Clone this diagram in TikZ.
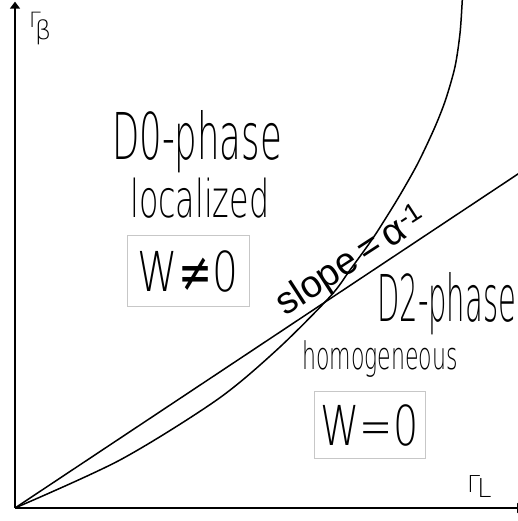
\documentclass[tikz,border=0pt]{standalone}
\usepackage{fontspec}
\setmainfont{Liberation Sans}
\IfFontExistsTF{DejaVu Sans ExtraLight}
  {\newfontfamily\handfont{DejaVu Sans ExtraLight}}
  {\newfontfamily\handfont{DejaVu Sans}}
\newfontfamily\symfont{DejaVu Sans}
\usetikzlibrary{arrows.meta}

\tikzset{
  axis/.style={line width=2pt, -{Triangle[width=10pt,length=7pt]}},
  graph/.style={line width=1.5pt},
  hand/.style={font=\handfont\fontsize{#1}{#1}\selectfont, inner sep=0pt},
  wbox/.style={draw=black!22, line width=1pt, inner sep=0pt},
}

\begin{document}
\begin{tikzpicture}[x=1pt, y=1pt]
  \useasboundingbox (-15,-13) rectangle (503,508);
  \coordinate (O) at (0,0);
  \coordinate (ytip) at (0,506.3);
  \coordinate (xtip) at (509,0);
  \coordinate (lineend) at (512,340);
  % axes
  \draw[axis] (O) -- (ytip);
  \draw[axis] (O) -- (xtip);
  % straight line and the curve
  \draw[graph] (O) -- (lineend);
  \draw[graph] plot[smooth, tension=0.5] coordinates {(0,0) (105,48) (201.7,108) (261.7,158) (315,211.3)
    (335,238) (356.7,268) (371.7,291.3) (386,314.7) (403,345) (419.5,380) (430.5,408) (440,441.3)
    (445,474.7) (447.3,508) (448,520)};
  % axis labels
  \node[hand=21, anchor=north west] (gbeta) at (14,496) {Γ\kern-6pt\raisebox{-12pt}{\fontsize{26}{26}\selectfont β}};
  \node[hand=23.3, anchor=north west] (gL) at (452,33) {Γ\kern-3pt\raisebox{-5pt}{\fontsize{26}{26}\selectfont L}};
  % upper region
  \node[hand=64.5, anchor=base west] (dzero) at (97,348) {\scalebox{0.55}[1]{D0-phase}};
  \node[hand=52, anchor=base west] (loc) at (115,290) {\scalebox{0.61}[1]{localized}};
  \node[wbox, minimum width=122pt, minimum height=71pt, hand=55] (wneq) at (173,236.5) {\scalebox{0.74}[1]{W{\symfont ≠}0}};
  % lower region
  \node[hand=64.5, anchor=base west] (dtwo) at (362,186) {\scalebox{0.45}[1]{D2-phase}};
  \node[hand=38, anchor=base west] (homog) at (287,138) {\scalebox{0.58}[1]{homogeneous}};
  \node[wbox, minimum width=111pt, minimum height=67pt, hand=55] (weq) at (354.5,82.5) {\scalebox{0.72}[1]{W=0}};
  % slope label
  \node[font=\fontsize{38}{38}\selectfont, anchor=base west, rotate=33, inner sep=0pt] (slope) at (270,191) {slope\,=\,α\textsuperscript{-1}};
\end{tikzpicture}
\end{document}
